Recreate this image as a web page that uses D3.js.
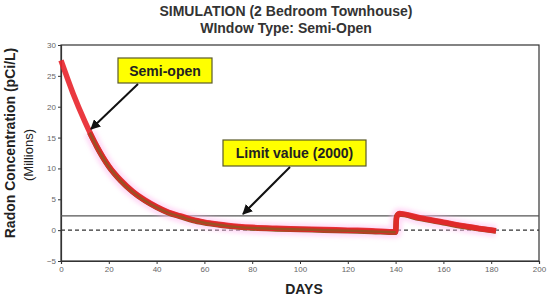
<!DOCTYPE html>
<html lang="en">
<head>
<meta charset="UTF-8">
<title>Simulation</title>
<script src="https://d3js.org/d3.v7.min.js"></script>
<style>
  body { margin: 0; background: #fff; }
  svg { display: block; font-family: "Liberation Sans", Arial, sans-serif; }
</style>
</head>
<body>
<svg width="550" height="298"></svg>
<script>
// values
const days     = [0, 5, 10, 15, 20, 25, 30, 35, 40, 45, 50, 55, 60, 65, 70, 80, 90, 100, 110, 120, 130, 140, 140.4, 141.5, 150, 160, 170, 182];
const semiOpen = [27.5, 22.2, 17.6, 13.6, 10.4, 8.1, 6.3, 4.9, 3.8, 2.9, 2.3, 1.7, 1.3, 1.0, 0.75, 0.45, 0.3, 0.2, 0.1, 0.0, -0.1, -0.25, 2.0, 2.7, 2.0, 1.3, 0.6, -0.1];
const simDays  = [12, 15, 20, 25, 30, 35, 40, 45, 50, 55, 60, 65, 70, 80, 90, 100, 110, 120, 130, 140, 140.4, 141.5, 150, 160, 170, 182];
const simVals  = [15.8, 13.5, 10.3, 8.0, 6.2, 4.8, 3.7, 2.8, 2.2, 1.6, 1.2, 0.9, 0.65, 0.35, 0.2, 0.1, 0.0, -0.1, -0.2, -0.35, 2.2, 2.6, 1.9, 1.2, 0.5, -0.15];
const limitValue = 2.3;
const xTicks = [0, 20, 40, 60, 80, 100, 120, 140, 160, 180, 200];
const yTicks = [-5, 0, 5, 10, 15, 20, 25, 30];

const svg = d3.select("svg");
const x = d3.scaleLinear().domain([0, 200]).range([61, 539]);
const y = d3.scaleLinear().domain([-5, 30]).range([261, 45]);

// arrow head
svg.append("defs").append("marker")
    .attr("id", "arr").attr("viewBox", "0 0 10 10")
    .attr("refX", 9).attr("refY", 5)
    .attr("markerWidth", 5).attr("markerHeight", 5)
    .attr("orient", "auto")
  .append("path").attr("d", "M0,0 L10,5 L0,10 z").attr("fill", "#111");
svg.select("defs").append("filter").attr("id", "blur")
  .append("feGaussianBlur").attr("stdDeviation", 2);

// frame
svg.append("rect").attr("x", x(0)).attr("y", y(30))
    .attr("width", x(200) - x(0)).attr("height", y(-5) - y(30))
    .attr("fill", "none").attr("stroke", "#333").attr("stroke-width", 1.2);

// axes
const xAxis = svg.append("g").attr("transform", `translate(0,${y(-5)})`)
    .call(d3.axisBottom(x).tickValues(xTicks).tickSize(3).tickPadding(2));
const yAxis = svg.append("g").attr("transform", `translate(${x(0)},0)`)
    .call(d3.axisLeft(y).tickValues(yTicks).tickSize(3).tickPadding(2));
[xAxis, yAxis].forEach(g => {
  g.select(".domain").attr("stroke", "#333").attr("stroke-width", 1.2);
  g.selectAll(".tick line").attr("stroke", "#333");
  g.selectAll("text").attr("fill", "#666").style("font-size", "8px")
    .style("font-family", "'Liberation Sans', Arial, sans-serif");
});

// limit line and zero line
svg.append("line").attr("x1", x(0)).attr("x2", x(200))
    .attr("y1", y(limitValue)).attr("y2", y(limitValue))
    .attr("stroke", "#555").attr("stroke-width", 1.3);
svg.append("line").attr("x1", x(0)).attr("x2", x(200))
    .attr("y1", y(0)).attr("y2", y(0))
    .attr("stroke", "#333").attr("stroke-width", 1.2)
    .attr("stroke-dasharray", "4,3");

const line = d3.line().x(d => x(d[0])).y(d => y(d[1])).curve(d3.curveMonotoneX);
const red = days.map((d, i) => [d, semiOpen[i]]);
const sim = simDays.map((d, i) => [d, simVals[i]]);

// pink haze
svg.append("path").attr("d", line(sim)).attr("fill", "none")
    .attr("stroke", "#ffbff0").attr("stroke-width", 12).attr("opacity", 0.6)
    .attr("filter", "url(#blur)");
svg.append("path").attr("d", line(sim)).attr("fill", "none")
    .attr("stroke", "#8a5a22").attr("stroke-width", 5.5).attr("stroke-linejoin", "round");
svg.append("path").attr("d", line(red)).attr("fill", "none")
    .attr("stroke", "#e8232b").attr("stroke-width", 5.5).attr("stroke-linejoin", "round")
    .attr("opacity", 0.9);
svg.append("path").attr("d", line(sim.slice(0, 20))).attr("fill", "none")
    .attr("stroke", "#8a5a22").attr("stroke-width", 2.5).attr("opacity", 0.8);

// annotations
function label(x0, y0, w, h, text) {
  svg.append("rect").attr("x", x0).attr("y", y0).attr("width", w).attr("height", h)
      .attr("fill", "#ffff00").attr("stroke", "#5a5a2a").attr("stroke-width", 1.2);
  svg.append("text").attr("x", x0 + w / 2).attr("y", y0 + h / 2 + 5)
      .attr("text-anchor", "middle").attr("font-weight", "bold")
      .attr("font-size", 14).attr("fill", "#222").text(text);
}
label(118, 58, 94, 25, "Semi-open");
label(223, 140, 143, 26, "Limit value (2000)");
svg.append("line").attr("x1", 138).attr("y1", 84).attr("x2", 91).attr("y2", 129)
    .attr("stroke", "#111").attr("stroke-width", 2).attr("marker-end", "url(#arr)");
svg.append("line").attr("x1", 290).attr("y1", 167).attr("x2", 243).attr("y2", 214)
    .attr("stroke", "#111").attr("stroke-width", 2).attr("marker-end", "url(#arr)");

// titles
svg.append("text").attr("x", 286).attr("y", 16).attr("text-anchor", "middle")
    .attr("font-weight", "bold").attr("font-size", 14).attr("fill", "#333")
    .text("SIMULATION (2 Bedroom Townhouse)");
svg.append("text").attr("x", 286).attr("y", 33).attr("text-anchor", "middle")
    .attr("font-weight", "bold").attr("font-size", 14).attr("fill", "#333")
    .text("WIndow Type: Semi-Open");
svg.append("text").attr("x", 304).attr("y", 294).attr("text-anchor", "middle")
    .attr("font-weight", "bold").attr("font-size", 14).attr("fill", "#222")
    .text("DAYS");
svg.append("text").attr("transform", "translate(15,143) rotate(-90)")
    .attr("text-anchor", "middle").attr("font-size", 14).attr("font-weight", "bold")
    .attr("fill", "#222")
    .text("Radon Concentration (pCi/L)");
svg.append("text").attr("transform", "translate(33,155) rotate(-90)")
    .attr("text-anchor", "middle").attr("font-size", 13).attr("fill", "#222")
    .text("(Millions)");
</script>
</body>
</html>
